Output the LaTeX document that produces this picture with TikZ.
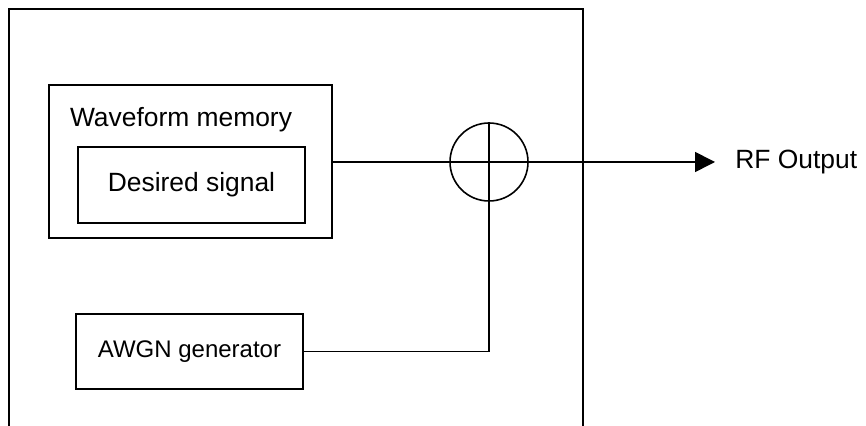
\documentclass[tikz,border=0pt]{standalone}
\usepackage{fontspec}
\setmainfont{Liberation Sans}
\usepackage{tikz}
\usetikzlibrary{arrows.meta, positioning, calc}
\tikzstyle{arrow} = [line width=0.8pt,-{Triangle[length=10pt,width=10pt]}]
\tikzstyle{line} = [line width=0.8pt]
\tikzstyle{block} = [rectangle, draw=black, line width=0.8pt, text centered, inner sep=0pt]

\begin{document}
\begin{tikzpicture}[x=0.5pt, y=-0.5pt, font=\fontsize{13.2}{16}\selectfont]
    \useasboundingbox (0,0) rectangle (866,426);

    % Generador
    \draw [line width=1pt] (9,426) -- (9,9) -- (583,9) -- (583,426);

    % Memoria
    \node (wfm) [block, minimum width=141.5pt, minimum height=76.5pt] at (190.5,161.5) {};
    \node (wfmtxt) at (181,120) {Waveform memory};
    \node (sig) [block, minimum width=113.5pt, minimum height=38pt] at (191.5,185) {Desired signal};

    % Ruido
    \node (awgn) [block, minimum width=113.5pt, minimum height=37.5pt, font=\fontsize{12}{14}\selectfont] at (189.5,351.5) {AWGN generator};

    % Sumador
    \node (sum) [circle, draw=black, line width=0.8pt, minimum size=39pt, inner sep=0pt] at (489,162) {};

    % Salida
    \node (out) [anchor=west, inner xsep=10pt, inner ysep=0pt] at (715,162) {RF Output};

    % Flechas
    \draw [arrow] (wfm.east |- sum) -- (out.west);
    \draw [line] (sum.north) -- (sum.north |- awgn.east) -- (awgn.east);
\end{tikzpicture}
\end{document}
